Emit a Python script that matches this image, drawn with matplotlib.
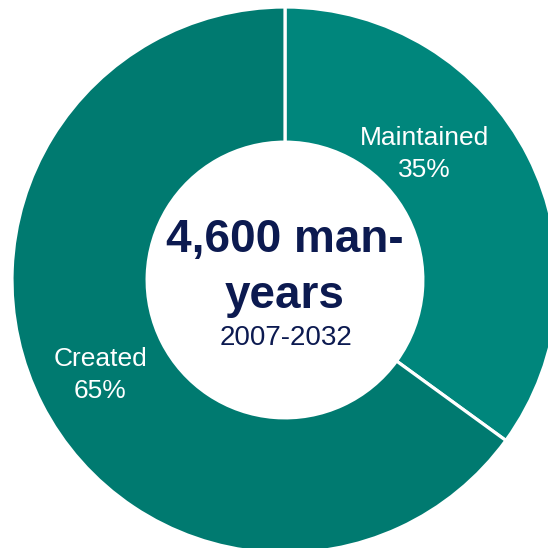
import matplotlib.pyplot as plt

# data
categories = ['Maintained', 'Created']
shares = [35, 65]
slice_colors = ['#00867C', '#007A70']
total_label = '4,600 man-\nyears'
period_label = '2007-2032'

plt.rcParams['font.family'] = ['Liberation Sans', 'DejaVu Sans']

navy = '#0C1A50'

fig = plt.figure(figsize=(5.48, 5.48), dpi=100)
ax = fig.add_axes([0, 0, 1, 1])

# pixel geometry of the reference: centre (285, 280), outer radius 273
cx, cy, R = 285, 280, 273
def px(x, y):
    return (x - cx) / R, (cy - y) / R

ax.pie(shares, colors=slice_colors, startangle=90, counterclock=False,
       radius=1.0, wedgeprops=dict(width=0.495, edgecolor='white', linewidth=2.3))

ax.set_xlim(px(0, 0)[0], px(548, 0)[0])
ax.set_ylim(px(0, 548)[1], px(0, 0)[1])
ax.set_aspect('equal')
ax.axis('off')

# slice labels
label_pos = [(424, 154), (100, 375)]
for name, val, (x, y) in zip(categories, shares, label_pos):
    ax.text(*px(x, y), f"{name}\n{val}%", color='white', fontsize=19,
            ha='center', va='center', linespacing=1.38)

# centre text
line1, line2 = total_label.split('\n')
ax.text(*px(285, 252), line1, color=navy, fontsize=33, fontweight='bold',
        ha='center', va='baseline')
ax.text(*px(285, 308), line2, color=navy, fontsize=33, fontweight='bold',
        ha='center', va='baseline')
ax.text(*px(286, 345), period_label, color=navy, fontsize=20,
        ha='center', va='baseline')

fig.savefig('out.png', dpi=100, facecolor='white')
